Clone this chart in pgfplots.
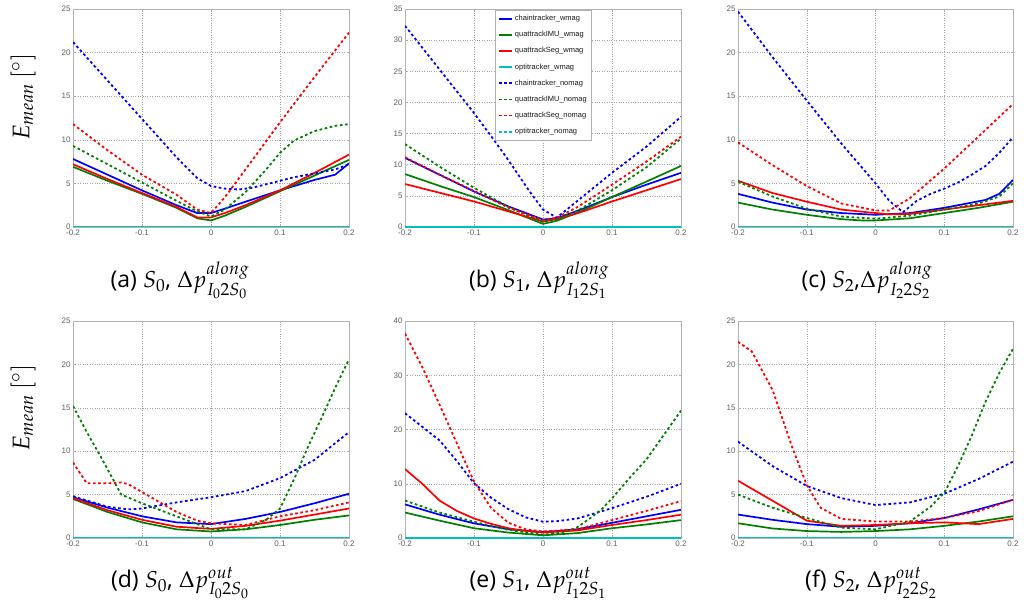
\documentclass[border=0pt]{standalone}
\usepackage{mathpazo}
\usepackage{fontspec}
\setmainfont{Open Sans}
\setsansfont{Liberation Sans}
\usepackage{pgfplots}
\pgfplotsset{compat=1.18}
\definecolor{mgreen}{rgb}{0,0.5,0}
\definecolor{mcyan}{rgb}{0,0.75,0.75}
\definecolor{mblue}{rgb}{0,0,1}
\definecolor{mred}{rgb}{1,0,0}
\pgfplotsset{
  sub/.style={
    scale only axis, width=276pt, height=218pt, anchor=south west,
    xmin=-0.2, xmax=0.2, ymin=0,
    xtick={-0.2,-0.1,0,0.1,0.2},
    grid=major, grid style={dotted, gray!70, line width=0.5pt},
    axis line style={gray!60}, tick style={gray!60}, tick align=inside, major tick length=2pt,
    ticklabel style={font=\sffamily\fontsize{8}{9}\selectfont, text=gray!75!black},
    /pgf/number format/assume math mode=true,
    xticklabel style={yshift=1pt},
    yticklabel style={xshift=1pt},
    clip=true,
  },
  bs/.style={mblue, line width=1.7pt},
  gs/.style={mgreen, line width=1.7pt},
  rs/.style={mred, line width=1.7pt},
  cs/.style={mcyan, line width=1.7pt},
  bd/.style={mblue, line width=1.8pt, dash pattern=on 2.6pt off 2.6pt},
  gd/.style={mgreen, line width=1.8pt, dash pattern=on 2.6pt off 2.6pt},
  rd/.style={mred, line width=1.8pt, dash pattern=on 2.6pt off 2.6pt},
  cd/.style={mcyan, line width=1.8pt, dash pattern=on 2.6pt off 2.6pt},
}
\begin{document}
\begin{tikzpicture}[x=1pt,y=1pt]
\useasboundingbox (0,0) rectangle (1024,606);
% ---------------- (a)
\begin{axis}[sub, at={(73pt,379pt)}, ymax=25, ytick={0,5,...,25}]
\addplot[bs] coordinates {(-0.2,7.8)(-0.15,6.0)(-0.1,4.2)(-0.05,2.5)(-0.02,1.6)(0,1.6)(0.02,2.1)(0.05,2.9)(0.1,4.2)(0.15,5.4)(0.18,6.0)(0.2,7.3)};
\addplot[gs] coordinates {(-0.2,6.9)(-0.15,5.3)(-0.1,3.8)(-0.05,2.2)(-0.02,1.0)(0,0.75)(0.02,1.3)(0.05,2.3)(0.1,4.1)(0.15,5.9)(0.2,7.7)};
\addplot[rs] coordinates {(-0.2,7.2)(-0.15,5.5)(-0.1,3.9)(-0.05,2.3)(-0.02,1.1)(0,1.1)(0.02,1.6)(0.05,2.5)(0.1,4.2)(0.15,6.2)(0.2,8.3)};
\addplot[cs] coordinates {(-0.2,0.05)(0,0.05)(0.2,0.05)};
\addplot[bd] coordinates {(-0.2,21.2)(-0.15,16.8)(-0.1,12.4)(-0.05,8.0)(-0.02,5.6)(0,4.7)(0.02,4.4)(0.04,4.3)(0.06,4.5)(0.08,4.9)(0.1,5.3)(0.12,5.7)(0.14,6.0)(0.16,6.3)(0.18,6.6)(0.2,7.2)};
\addplot[gd] coordinates {(-0.2,9.3)(-0.15,7.2)(-0.1,5.1)(-0.05,3.0)(-0.02,1.8)(0,1.2)(0.02,2.0)(0.05,4.0)(0.08,6.6)(0.1,8.5)(0.12,9.9)(0.15,11.0)(0.18,11.6)(0.2,11.8)};
\addplot[rd] coordinates {(-0.2,11.8)(-0.15,8.8)(-0.1,6.0)(-0.05,3.7)(-0.02,2.0)(0,1.6)(0.02,3.4)(0.05,6.6)(0.1,12.0)(0.15,17.2)(0.2,22.3)};
\addplot[cd] coordinates {(-0.2,0.05)(0,0.05)(0.2,0.05)};
\end{axis}
% ---------------- (b)
\begin{axis}[sub, at={(405pt,379pt)}, ymax=35, ytick={0,5,...,35},
  legend cell align=left,
  legend style={at={(0.326,0.995)}, anchor=north west, draw=gray!60, fill=white,
    font=\sffamily\fontsize{7.5}{8}\selectfont, text=gray!20!black, row sep=5.2pt,
    inner xsep=3pt, inner ysep=3pt},
  legend image code/.code={\draw[#1] (0pt,0pt) -- (13pt,0pt);}]
\addplot[bs] coordinates {(-0.2,11.1)(-0.15,8.4)(-0.1,5.7)(-0.05,3.3)(0,1.2)(0.02,1.4)(0.05,2.6)(0.1,4.8)(0.15,6.8)(0.2,8.7)};
\addlegendentry{chaintracker\_wmag}
\addplot[gs] coordinates {(-0.2,8.5)(-0.15,6.6)(-0.1,4.8)(-0.05,2.7)(0,0.5)(0.02,1.0)(0.05,2.3)(0.1,4.8)(0.15,7.3)(0.2,9.8)};
\addlegendentry{quattrackIMU\_wmag}
\addplot[rs] coordinates {(-0.2,6.9)(-0.15,5.5)(-0.1,4.1)(-0.05,2.5)(0,0.9)(0.02,1.3)(0.05,2.2)(0.1,4.1)(0.15,5.9)(0.2,7.7)};
\addlegendentry{quattrackSeg\_wmag}
\addplot[cs] coordinates {(-0.2,0.05)(0,0.05)(0.2,0.05)};
\addlegendentry{optitracker\_wmag}
\addplot[bd] coordinates {(-0.2,32.3)(-0.15,25.3)(-0.1,18.3)(-0.07,13.8)(-0.05,10.7)(-0.02,5.8)(0,2.8)(0.02,1.5)(0.05,4.2)(0.1,8.7)(0.15,12.9)(0.2,17.7)};
\addlegendentry{chaintracker\_nomag}
\addplot[gd] coordinates {(-0.2,13.3)(-0.15,9.7)(-0.1,6.3)(-0.05,3.2)(0,0.8)(0.02,1.2)(0.05,2.6)(0.1,5.9)(0.15,9.6)(0.2,14.2)};
\addlegendentry{quattrackIMU\_nomag}
\addplot[rd] coordinates {(-0.2,11.2)(-0.15,8.4)(-0.1,5.8)(-0.05,3.1)(0,1.1)(0.02,1.5)(0.05,3.2)(0.1,6.8)(0.15,10.5)(0.2,14.5)};
\addlegendentry{quattrackSeg\_nomag}
\addplot[cd] coordinates {(-0.2,0.05)(0,0.05)(0.2,0.05)};
\addlegendentry{optitracker\_nomag}
\end{axis}
% ---------------- (c)
\begin{axis}[sub, at={(738pt,379pt)}, width=275pt, ymax=25, ytick={0,5,...,25}]
\addplot[bs] coordinates {(-0.2,3.8)(-0.15,2.8)(-0.1,2.0)(-0.05,1.6)(0,1.4)(0.05,1.6)(0.1,2.2)(0.14,2.8)(0.16,3.1)(0.18,3.8)(0.2,5.4)};
\addplot[gs] coordinates {(-0.2,2.8)(-0.15,2.0)(-0.1,1.4)(-0.05,0.9)(-0.02,0.75)(0,0.75)(0.05,1.0)(0.1,1.6)(0.15,2.2)(0.2,2.9)};
\addplot[rs] coordinates {(-0.2,5.3)(-0.15,3.9)(-0.1,2.9)(-0.05,2.0)(0,1.6)(0.02,1.45)(0.05,1.5)(0.1,2.0)(0.15,2.5)(0.2,3.0)};
\addplot[cs] coordinates {(-0.2,0.05)(0,0.05)(0.2,0.05)};
\addplot[bd] coordinates {(-0.2,24.7)(-0.15,19.5)(-0.1,14.5)(-0.05,9.6)(0,5.0)(0.02,3.0)(0.04,1.7)(0.06,3.0)(0.08,3.8)(0.1,4.4)(0.12,5.1)(0.14,6.0)(0.16,7.0)(0.18,8.5)(0.2,10.3)};
\addplot[gd] coordinates {(-0.2,5.2)(-0.15,3.5)(-0.1,2.1)(-0.05,1.2)(0,0.95)(0.05,1.3)(0.1,2.0)(0.15,2.7)(0.18,3.5)(0.2,5.0)};
\addplot[rd] coordinates {(-0.2,9.7)(-0.15,7.1)(-0.1,4.7)(-0.05,2.7)(0,1.9)(0.02,1.9)(0.05,3.3)(0.1,6.7)(0.15,10.4)(0.2,14.1)};
\addplot[cd] coordinates {(-0.2,0.05)(0,0.05)(0.2,0.05)};
\end{axis}
% ---------------- (d)
\begin{axis}[sub, at={(73pt,68pt)}, height=217pt, ymax=25, ytick={0,5,...,25}]
\addplot[bs] coordinates {(-0.2,4.7)(-0.15,3.5)(-0.1,2.5)(-0.05,1.8)(0,1.6)(0.05,2.2)(0.1,3.0)(0.15,4.0)(0.2,5.1)};
\addplot[gs] coordinates {(-0.2,4.5)(-0.15,3.0)(-0.1,1.8)(-0.05,1.0)(0,0.75)(0.05,1.0)(0.1,1.5)(0.15,2.1)(0.2,2.6)};
\addplot[rs] coordinates {(-0.2,4.6)(-0.15,3.2)(-0.1,2.1)(-0.05,1.3)(0,1.05)(0.05,1.4)(0.1,2.0)(0.15,2.7)(0.2,3.4)};
\addplot[cs] coordinates {(-0.2,0.05)(0,0.05)(0.2,0.05)};
\addplot[bd] coordinates {(-0.2,4.8)(-0.15,3.6)(-0.12,3.3)(-0.1,3.4)(-0.05,4.1)(0,4.7)(0.05,5.4)(0.1,6.9)(0.15,9.0)(0.2,12.2)};
\addplot[gd] coordinates {(-0.2,15.2)(-0.18,12.2)(-0.16,9.4)(-0.13,5.0)(-0.1,4.0)(-0.05,2.5)(0,1.0)(0.05,1.0)(0.08,2.1)(0.1,3.4)(0.12,6.7)(0.14,10.4)(0.16,13.8)(0.18,17.3)(0.2,20.6)};
\addplot[rd] coordinates {(-0.2,8.7)(-0.18,6.3)(-0.15,6.3)(-0.13,6.4)(-0.12,6.2)(-0.1,5.3)(-0.05,3.0)(-0.02,2.0)(0,1.7)(0.05,1.5)(0.1,2.5)(0.15,3.2)(0.2,4.1)};
\addplot[cd] coordinates {(-0.2,0.05)(0,0.05)(0.2,0.05)};
\end{axis}
% ---------------- (e)
\begin{axis}[sub, at={(405pt,68pt)}, height=217pt, ymax=40, ytick={0,10,...,40}]
\addplot[bs] coordinates {(-0.2,6.2)(-0.15,4.3)(-0.1,2.7)(-0.05,1.6)(0,1.1)(0.05,1.6)(0.1,2.8)(0.15,4.0)(0.2,5.2)};
\addplot[gs] coordinates {(-0.2,4.7)(-0.15,3.2)(-0.1,1.8)(-0.05,1.0)(0,0.5)(0.05,0.9)(0.1,1.8)(0.15,2.5)(0.2,3.3)};
\addplot[rs] coordinates {(-0.2,12.7)(-0.175,10.0)(-0.15,6.9)(-0.125,5.0)(-0.1,3.6)(-0.075,2.6)(-0.05,1.8)(-0.025,1.3)(0,1.0)(0.05,1.4)(0.1,2.4)(0.15,3.3)(0.2,4.3)};
\addplot[cs] coordinates {(-0.2,0.05)(0,0.05)(0.2,0.05)};
\addplot[bd] coordinates {(-0.2,23.0)(-0.175,20.5)(-0.15,18.0)(-0.125,14.2)(-0.1,10.1)(-0.075,7.4)(-0.05,5.3)(-0.025,3.8)(0,3.0)(0.02,3.1)(0.05,3.6)(0.1,5.5)(0.15,7.6)(0.2,10.0)};
\addplot[gd] coordinates {(-0.2,6.9)(-0.15,4.7)(-0.1,3.0)(-0.05,1.5)(0,0.6)(0.03,1.0)(0.05,2.0)(0.07,3.8)(0.085,5.3)(0.1,7.3)(0.125,11.0)(0.15,14.5)(0.175,19.0)(0.2,23.5)};
\addplot[rd] coordinates {(-0.2,37.7)(-0.175,31.5)(-0.15,24.6)(-0.125,17.5)(-0.1,10.4)(-0.075,5.5)(-0.05,2.8)(-0.025,1.6)(0,1.2)(0.05,1.6)(0.1,3.3)(0.15,5.0)(0.2,6.8)};
\addplot[cd] coordinates {(-0.2,0.05)(0,0.05)(0.2,0.05)};
\end{axis}
% ---------------- (f)
\begin{axis}[sub, at={(738pt,68pt)}, width=275pt, height=217pt, ymax=25, ytick={0,5,...,25}]
\addplot[bs] coordinates {(-0.2,2.7)(-0.15,2.1)(-0.1,1.6)(-0.05,1.3)(0,1.4)(0.05,1.7)(0.1,2.3)(0.15,3.3)(0.2,4.4)};
\addplot[gs] coordinates {(-0.2,1.7)(-0.15,1.1)(-0.1,0.8)(-0.05,0.7)(0,0.8)(0.05,1.0)(0.1,1.4)(0.15,1.9)(0.2,2.5)};
\addplot[rs] coordinates {(-0.2,6.6)(-0.15,4.3)(-0.1,2.0)(-0.05,1.4)(0,1.5)(0.05,1.7)(0.1,1.8)(0.15,1.6)(0.2,2.2)};
\addplot[cs] coordinates {(-0.2,0.05)(0,0.05)(0.2,0.05)};
\addplot[bd] coordinates {(-0.2,11.1)(-0.15,8.3)(-0.1,6.0)(-0.05,4.6)(0,3.8)(0.05,4.1)(0.1,5.1)(0.15,6.8)(0.2,8.8)};
\addplot[gd] coordinates {(-0.2,5.0)(-0.15,3.5)(-0.1,2.3)(-0.05,1.2)(0,1.0)(0.05,1.9)(0.08,3.6)(0.1,5.2)(0.12,8.3)(0.14,11.8)(0.16,15.7)(0.18,19.0)(0.2,21.8)};
\addplot[rd] coordinates {(-0.2,22.6)(-0.18,21.5)(-0.15,17.1)(-0.12,10.2)(-0.1,6.1)(-0.08,3.5)(-0.05,2.2)(0,1.9)(0.05,1.9)(0.1,2.3)(0.15,3.1)(0.2,4.4)};
\addplot[cd] coordinates {(-0.2,0.05)(0,0.05)(0.2,0.05)};
\end{axis}
% ---------------- labels
\node[rotate=90, anchor=center, font=\fontsize{24}{26}\selectfont] at (23,509) {$E_{mean}\,[^{\circ}]$};
\node[rotate=90, anchor=center, font=\fontsize{24}{26}\selectfont] at (23,198) {$E_{mean}\,[^{\circ}]$};
\tikzset{capt/.style={anchor=base, font=\fontsize{23}{27}\selectfont, inner sep=0pt}}
\node[capt] at (180,319) {(a) $S_0$, $\Delta p^{along}_{I_0 2 S_0}$};
\node[capt] at (539,319) {(b) $S_1$, $\Delta p^{along}_{I_1 2 S_1}$};
\node[capt] at (867,319) {(c) $S_2$,$\Delta p^{along}_{I_2 2 S_2}$};
\node[capt] at (180,19) {(d) $S_0$, $\Delta p^{out}_{I_0 2 S_0}$};
\node[capt] at (538,19) {(e) $S_1$, $\Delta p^{out}_{I_1 2 S_1}$};
\node[capt] at (871,19) {(f) $S_2$, $\Delta p^{out}_{I_2 2 S_2}$};
\end{tikzpicture}
\end{document}
